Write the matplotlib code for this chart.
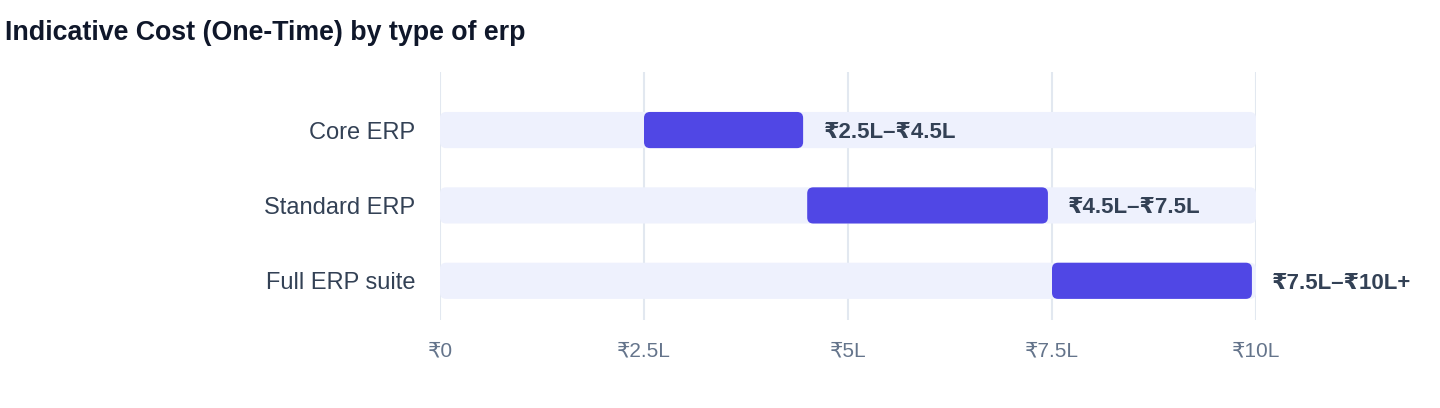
import matplotlib
matplotlib.use("Agg")
import matplotlib.pyplot as plt
from matplotlib.patches import FancyBboxPatch

# data
categories = ["Core ERP", "Standard ERP", "Full ERP suite"]
low = [2.5, 4.5, 7.5]
high = [4.5, 7.5, 10.0]
range_labels = ["₹2.5L–₹4.5L", "₹4.5L–₹7.5L", "₹7.5L–₹10L+"]
tick_vals = [0, 2.5, 5, 7.5, 10]
tick_labels = ["₹0", "₹2.5L", "₹5L", "₹7.5L", "₹10L"]
axis_max = 10

fonts = ["Liberation Sans", "DejaVu Sans"]
plt.rcParams["font.family"] = fonts

fig = plt.figure(figsize=(14.4, 4.08), dpi=100)
ax = fig.add_axes([440 / 1440, 1 - 320 / 408, 816 / 1440, 248 / 408])

bar_h = 0.48
asp = 81.6 / 75.5
rs = 0.075

for i, cat in enumerate(categories):
    # background track
    track = FancyBboxPatch((0, i - bar_h / 2), axis_max, bar_h,
                           boxstyle=f"round,pad=0,rounding_size={rs}",
                           mutation_aspect=asp, fc="#EEF1FD", ec="none", zorder=2)
    ax.add_patch(track)
    # range bar (small visual gap at the end)
    bar = FancyBboxPatch((low[i], i - bar_h / 2), high[i] - low[i] - 0.05, bar_h,
                         boxstyle=f"round,pad=0,rounding_size={rs}",
                         mutation_aspect=asp, fc="#5047E5", ec="none", zorder=3)
    ax.add_patch(bar)
    ax.text(high[i] + 0.2, i + 0.03, range_labels[i], va="center", ha="left",
            fontsize=16, fontweight="bold", color="#334155", clip_on=False)

ax.set_xlim(0, axis_max)
ax.set_ylim(2 + 0.52, -0.77)
ax.set_yticks(range(len(categories)))
ax.set_yticklabels(categories, fontsize=17, color="#334155")
ax.set_xticks(tick_vals)
ax.set_xticklabels(tick_labels, fontsize=15, color="#64748B")
ax.tick_params(axis="y", length=0, pad=18)
ax.tick_params(axis="x", length=0, pad=15.5)
ax.grid(axis="x", color="#E2E8F0", linewidth=1.5, zorder=0)
ax.set_axisbelow(True)
for s in ax.spines.values():
    s.set_visible(False)

fig.text(5 / 1440, 1 - 33 / 408, "Indicative Cost (One-Time) by type of erp",
         fontsize=19.3, fontweight="bold", color="#0F172A", va="center", ha="left")

fig.savefig("out.png", dpi=100, facecolor="white")
